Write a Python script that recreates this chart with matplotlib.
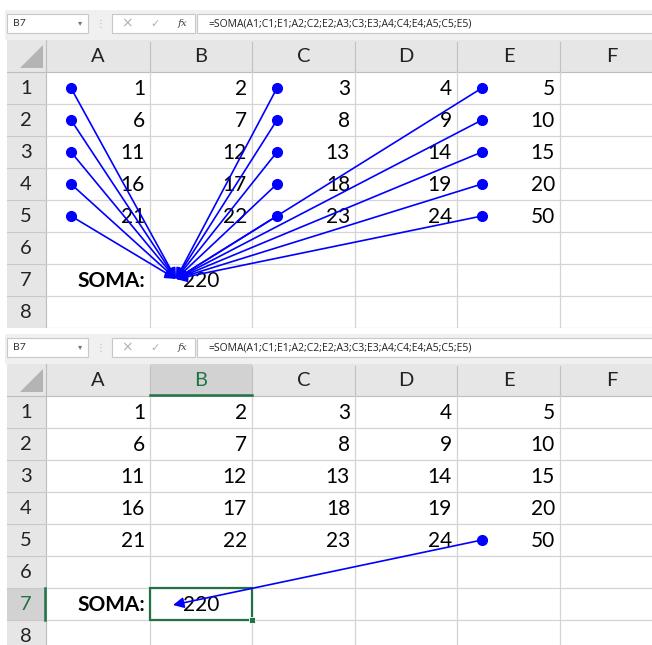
import matplotlib
matplotlib.use("Agg")
import matplotlib.pyplot as plt
from matplotlib.patches import Rectangle, Polygon, FancyArrowPatch

plt.rcParams['font.family'] = ['Lato', 'DejaVu Sans']

# sheet contents
col_names = ['A', 'B', 'C', 'D', 'E', 'F']
row_names = ['1', '2', '3', '4', '5', '6', '7', '8']
values = [
    [1, 2, 3, 4, 5],
    [6, 7, 8, 9, 10],
    [11, 12, 13, 14, 15],
    [16, 17, 18, 19, 20],
    [21, 22, 23, 24, 50],
]
sum_label = 'SOMA:'
total = 220
formula = '=SOMA(A1;C1;E1;A2;C2;E2;A3;C3;E3;A4;C4;E4;A5;C5;E5)'
name_box = 'B7'
# precedent cells traced in each screenshot (col index, row index)
arrows_top = [(c, r) for c in (0, 2, 4) for r in range(5)]
arrows_bottom = [(4, 4)]

# layout (pixels)
col_edges = [46, 150, 252, 355, 457, 560, 663]
row_h = 32
hdr_top, hdr_bot = 40, 72
grid_c = '#d4d4d4'
hdr_c = '#e6e6e6'
sel_hdr = '#d2d2d2'
green = '#217346'
blue = '#0000ff'

fig = plt.figure(figsize=(6.52, 6.45), dpi=100)
ax = fig.add_axes([0, 0, 1, 1])
ax.set_xlim(0, 652)
ax.set_ylim(645, 0)
ax.axis('off')


def row_y(r, oy):
    return oy + hdr_bot + r * row_h


def panel(oy, arrows, selected, bottom):
    # formula bar band
    ax.add_patch(Rectangle((5, oy + 10), 652, 30, fc='#f0f0f0', ec='none'))
    ax.add_patch(Rectangle((7, oy + 14), 81, 19, fc='white', ec='#c8c8c8', lw=0.8))
    ax.text(13, oy + 23.5, name_box, fontsize=7.5, color='#333333', va='center')
    ax.text(80, oy + 23, '▾', fontsize=6, color='#777777', va='center', ha='center',
            family='DejaVu Sans')
    ax.text(100, oy + 23.5, '⋮', fontsize=7, color='#bbbbbb', va='center', ha='center',
            family='DejaVu Sans')
    ax.add_patch(Rectangle((112, oy + 14), 83, 19, fc='white', ec='#c8c8c8', lw=0.8))
    ax.text(127, oy + 23.5, '×', fontsize=10, color='#b0b0b0', va='center', ha='center',
            family='DejaVu Sans')
    ax.text(155, oy + 23.5, '✓', fontsize=8, color='#b0b0b0', va='center', ha='center',
            family='DejaVu Sans')
    ax.text(183, oy + 23.5, 'fx', fontsize=7.5, color='#444444', va='center', ha='center',
            family='DejaVu Serif', style='italic')
    ax.add_patch(Rectangle((197, oy + 14), 460, 19, fc='white', ec='#c8c8c8', lw=0.8))
    ax.text(208, oy + 23.5, formula, fontsize=7.5, color='#222222', va='center',
            family='Open Sans')

    top = oy + hdr_bot
    end = min(row_y(len(row_names), oy), 660)

    # headers
    ax.add_patch(Rectangle((7, oy + hdr_top), 660, hdr_bot - hdr_top, fc=hdr_c, ec='none'))
    ax.add_patch(Rectangle((7, top), col_edges[0] - 7, end - top, fc=hdr_c, ec='none'))
    ax.add_patch(Polygon([(20, oy + 68), (43, oy + 68), (43, oy + 45)], closed=True,
                         fc='#b4b4b4', ec='none'))
    for i, name in enumerate(col_names):
        x0, x1 = col_edges[i], col_edges[i + 1]
        tc = '#222222'
        if selected and i == selected[0]:
            ax.add_patch(Rectangle((x0, oy + hdr_top), x1 - x0, hdr_bot - hdr_top,
                                   fc=sel_hdr, ec='none'))
            ax.plot([x0, x1], [top - 1, top - 1], color=green, lw=1.8, zorder=4)
            tc = green
        ax.text((x0 + x1) / 2, oy + 57, name, fontsize=14.5, color=tc, ha='center', va='center')
        ax.plot([x1, x1], [oy + hdr_top + 2, top], color='#c0c0c0', lw=0.8)
    ax.plot([7, 660], [top, top], color='#bdbdbd', lw=0.8)
    for r, name in enumerate(row_names):
        y0 = row_y(r, oy)
        tc = '#222222'
        if selected and r == selected[1]:
            ax.add_patch(Rectangle((7, y0), col_edges[0] - 7, row_h, fc=sel_hdr, ec='none'))
            ax.plot([col_edges[0] - 1, col_edges[0] - 1], [y0, y0 + row_h], color=green,
                    lw=1.8, zorder=4)
            tc = green
        ax.text(26, y0 + row_h / 2 + 1, name, fontsize=14.5, color=tc, ha='center', va='center')
        ax.plot([7, col_edges[0]], [y0 + row_h, y0 + row_h], color='#c8c8c8', lw=0.8)
    ax.plot([col_edges[0], col_edges[0]], [oy + hdr_top, end], color='#bdbdbd', lw=0.8)

    # grid
    for x in col_edges[1:]:
        ax.plot([x, x], [top, end], color=grid_c, lw=0.9)
    for r in range(1, len(row_names) + 1):
        y = row_y(r, oy)
        ax.plot([col_edges[0], 660], [y, y], color=grid_c, lw=0.9)

    # cell values
    for r, row in enumerate(values):
        yc = row_y(r, oy) + row_h / 2 + 1
        for c, v in enumerate(row):
            ax.text(col_edges[c + 1] - 5, yc, str(v), fontsize=15, ha='right', va='center')
    y7 = row_y(6, oy) + row_h / 2 + 1
    ax.text(col_edges[1] - 5, y7, sum_label, fontsize=15, fontweight='bold',
            ha='right', va='center')
    ax.text((col_edges[1] + col_edges[2]) / 2, y7, str(total), fontsize=15,
            ha='center', va='center')

    if selected:
        c, r = selected
        x0, y0 = col_edges[c], row_y(r, oy)
        ax.add_patch(Rectangle((x0, y0), col_edges[c + 1] - x0, row_h, fc='none',
                               ec=green, lw=1.6, zorder=4))
        ax.add_patch(Rectangle((col_edges[c + 1] - 3, y0 + row_h - 3), 6, 6, fc=green,
                               ec='white', lw=0.6, zorder=4))

    # trace precedents
    for c, r in arrows:
        xs = col_edges[c] + 25
        ys = row_y(r, oy) + row_h / 2
        ax.add_patch(FancyArrowPatch((xs, ys), bottom, arrowstyle='-|>', mutation_scale=16,
                                     color=blue, lw=1.2, shrinkA=0, shrinkB=0, zorder=5))
        ax.plot(xs, ys, 'o', color=blue, markersize=7, zorder=5)


panel(0, arrows_top, None, (176, 279))
panel(324, arrows_bottom, (1, 6), (173, 605))
# white gap between the two screenshots
ax.add_patch(Rectangle((0, row_y(len(row_names), 0)), 660, 334 - row_y(len(row_names), 0),
                       fc='white', ec='none', zorder=6))

fig.savefig('out.png', dpi=100)
